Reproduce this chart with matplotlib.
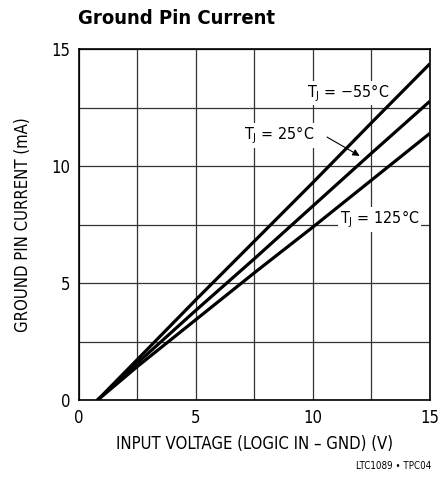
import matplotlib
matplotlib.use("Agg")
import matplotlib.pyplot as plt

plt.rcParams['font.family'] = ['DejaVu Sans']
plt.rcParams['font.stretch'] = 'condensed'

# Input voltage (V) vs ground pin current (mA)
v_in = [0.78, 2.5, 5.0, 7.5, 10.0, 12.5, 15.0]
i_m55 = [0.0, 1.75, 4.3, 6.8, 9.3, 11.85, 14.37]
i_25 = [0.0, 1.6, 3.85, 6.05, 8.3, 10.55, 12.77]
i_125 = [0.0, 1.45, 3.45, 5.45, 7.4, 9.4, 11.4]

xticks = [0, 5, 10, 15]
yticks = [0, 5, 10, 15]

fig = plt.figure(figsize=(4.45, 4.82), dpi=100)
ax = fig.add_axes([0.1775, 0.1693, 0.7885, 0.729])
ax.set_axisbelow(True)

for y in (i_m55, i_25, i_125):
    ax.plot(v_in, y, color='black', lw=2.3, solid_capstyle='butt', zorder=3)

ax.set_xlim(0, 15)
ax.set_ylim(0, 15)
ax.set_xticks(xticks)
ax.set_yticks(yticks)
ax.set_xticks([2.5, 7.5, 12.5], minor=True)
ax.set_yticks([2.5, 7.5, 12.5], minor=True)
ax.grid(True, which='both', color='#333333', lw=0.9)
ax.tick_params(which='both', length=0, labelsize=12, pad=6)
for s in ax.spines.values():
    s.set_linewidth(1.2)
    s.set_zorder(4)

ax.set_xlabel("INPUT VOLTAGE (LOGIC IN \u2013 GND) (V)", fontsize=12, labelpad=6)
ax.set_ylabel("GROUND PIN CURRENT (mA)", fontsize=12, labelpad=14)

box = dict(facecolor='white', edgecolor='none', pad=1)
ax.text(9.75, 13.12, "T$_\\mathregular{J}$ = \u221255\u00b0C", fontsize=11.5, va='center', ha='left', bbox=box, zorder=2)
ax.text(7.05, 11.3, "T$_\\mathregular{J}$ = 25\u00b0C", fontsize=11.5, va='center', ha='left', bbox=box, zorder=2)
ax.text(11.15, 7.73, "T$_\\mathregular{J}$ = 125\u00b0C", fontsize=11.5, va='center', ha='left', bbox=box, zorder=2)
ax.annotate("", xy=(12.1, 10.38), xytext=(10.5, 11.3),
            arrowprops=dict(arrowstyle='-|>', color='black', lw=0.8, mutation_scale=10), zorder=4)

fig.text(0.175, 0.962, "Ground Pin Current", fontsize=14.5, fontweight='bold', va='center', ha='left')
fig.text(0.97, 0.033, "LTC1089 \u2022 TPC04", fontsize=7, va='center', ha='right')

fig.savefig("out.png", dpi=100)
